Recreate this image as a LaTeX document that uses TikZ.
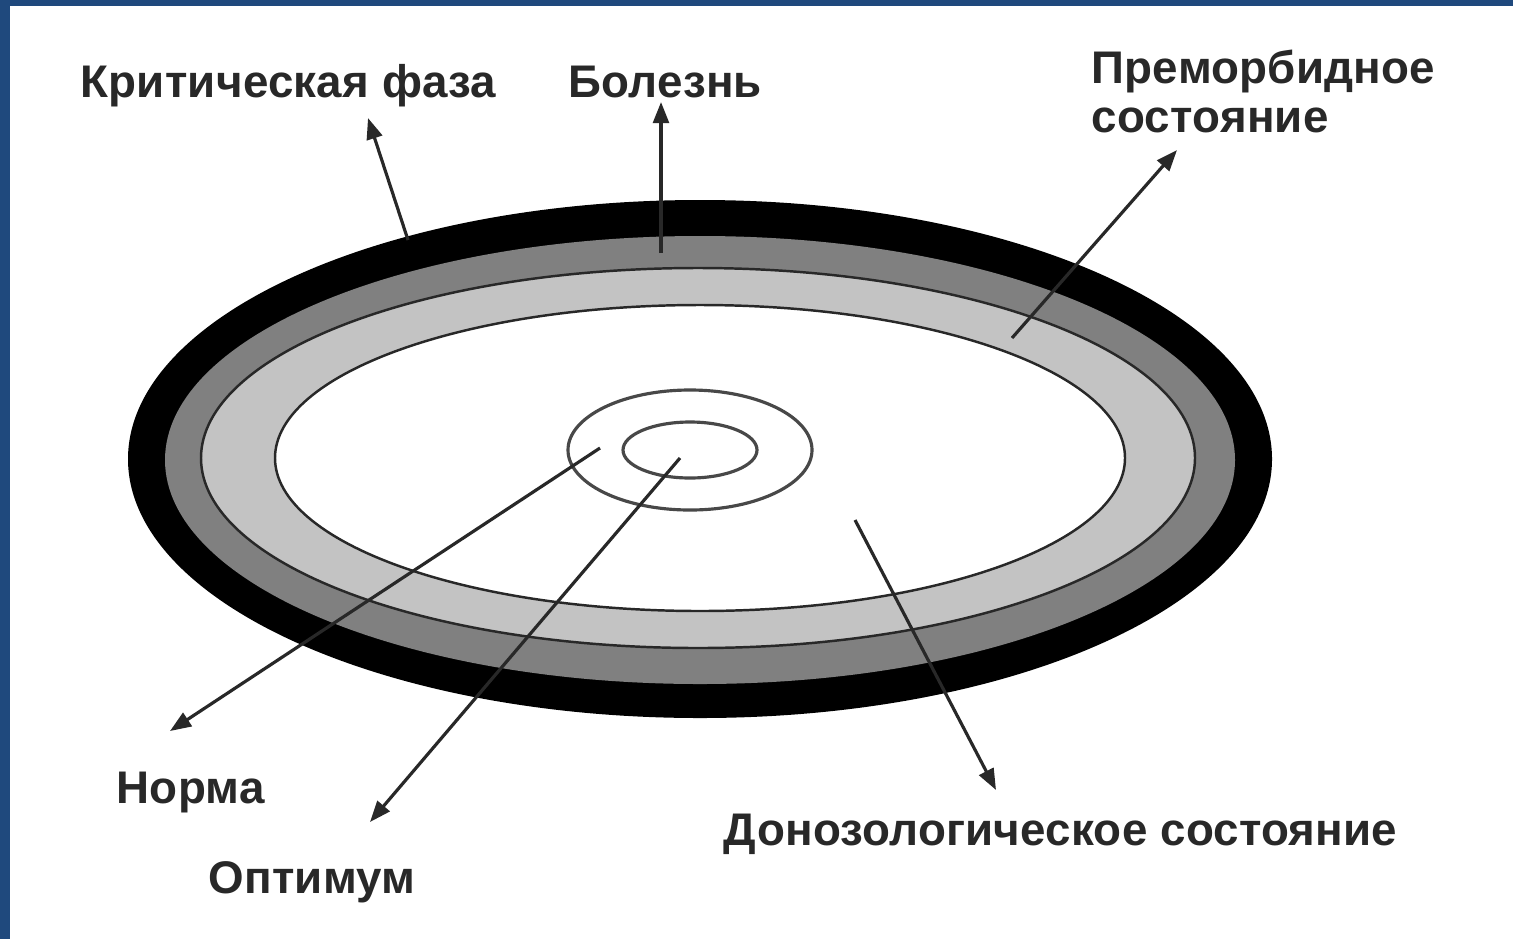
\documentclass[tikz,border=0pt]{standalone}
\usepackage{fontspec}
\setmainfont{Liberation Sans}
\usetikzlibrary{arrows.meta}

\definecolor{frameblue}{RGB}{31,73,125}
\definecolor{ringdark}{RGB}{128,128,128}
\definecolor{ringlight}{RGB}{195,195,195}
\definecolor{inkgray}{RGB}{40,40,40}

\begin{document}
\begin{tikzpicture}[
    x=0.01cm, y=-0.01cm,
    label/.style={anchor=base west, inner sep=0pt, text=inkgray,
      font=\fontsize{13pt}{17pt}\selectfont\bfseries\addfontfeature{LetterSpace=0.5}},
    pointer/.style={draw=inkgray, line width=0.9pt,
      -{Triangle[length=6pt, width=4.5pt]}},
    rim/.style={draw=inkgray, line width=0.7pt}
  ]
    \useasboundingbox (0,0) rectangle (1513,939);
    \fill[white] (0,0) rectangle (1513,939);
    \fill[frameblue] (0,0) rectangle (1513,6);
    \fill[frameblue] (0,0) rectangle (10,939);

    % rings
    \fill[black] (700,459) ellipse [x radius=572, y radius=259];
    \fill[ringdark] (700,460) ellipse [x radius=535, y radius=224];
    \filldraw[rim, fill=ringlight] (698,458) ellipse [x radius=497, y radius=190];
    \filldraw[rim, fill=white] (700,458) ellipse [x radius=425, y radius=153];
    \draw[draw=inkgray!85, line width=0.9pt] (690,450) ellipse [x radius=122, y radius=60];
    \draw[draw=inkgray!85, line width=0.9pt] (690,450) ellipse [x radius=67, y radius=28];

    % labels
    \node[label] (crit) at (80,97) {Критическая фаза};
    \node[label] (ill) at (568,97) {Болезнь};
    \node[label] (premorb) at (1091,83) {Преморбидное};
    \node[label] (premorb2) at (1091,132) {состояние};
    \node[label] (norm) at (116,803) {Норма};
    \node[label] (optim) at (208,893) {Оптимум};
    \node[label] (prenos) at (723,845) {Донозологическое состояние};

    % pointers
    \coordinate (crit-from) at (408,240);
    \coordinate (crit-tip) at (368,118);
    \coordinate (ill-from) at (661,253);
    \coordinate (ill-tip) at (661,102);
    \coordinate (premorb-from) at (1012,338);
    \coordinate (premorb-tip) at (1177,150);
    \coordinate (norm-from) at (600,448);
    \coordinate (norm-tip) at (170,731);
    \coordinate (optim-from) at (680,458);
    \coordinate (optim-tip) at (370,822);
    \coordinate (prenos-from) at (855,520);
    \coordinate (prenos-tip) at (996,790);

    \draw[pointer] (crit-from) -- (crit-tip);
    \draw[pointer] (ill-from) -- (ill-tip);
    \draw[pointer] (premorb-from) -- (premorb-tip);
    \draw[pointer] (norm-from) -- (norm-tip);
    \draw[pointer] (optim-from) -- (optim-tip);
    \draw[pointer] (prenos-from) -- (prenos-tip);
  \end{tikzpicture}
\end{document}
